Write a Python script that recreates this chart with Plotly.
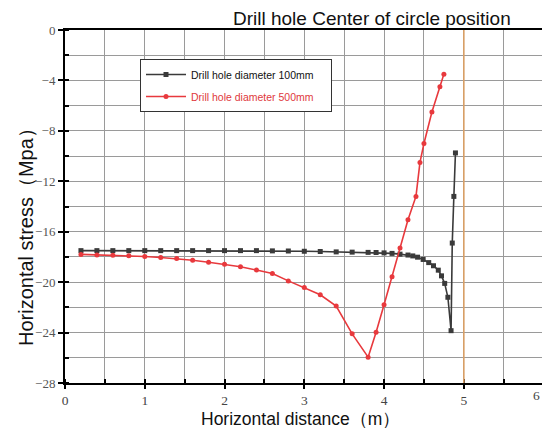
import plotly.graph_objects as go

# Data
x_100 = [0.2, 0.4, 0.6, 0.8, 1.0, 1.2, 1.4, 1.6, 1.8, 2.0, 2.2, 2.4, 2.6, 2.8, 3.0, 3.2, 3.4, 3.6, 3.8,
         3.9, 4.0, 4.1, 4.2, 4.3, 4.36, 4.42, 4.49, 4.56, 4.62, 4.68, 4.72, 4.76, 4.8, 4.84, 4.855, 4.875, 4.895]
y_100 = [-17.5, -17.5, -17.5, -17.5, -17.5, -17.5, -17.5, -17.5, -17.5, -17.5, -17.5, -17.5, -17.52, -17.53,
         -17.55, -17.57, -17.6, -17.62, -17.64, -17.65, -17.68, -17.72, -17.78, -17.85, -17.92, -18.02, -18.2,
         -18.45, -18.7, -19.05, -19.5, -20.1, -21.2, -23.85, -16.9, -13.2, -9.75]

x_500 = [0.2, 0.4, 0.6, 0.8, 1.0, 1.2, 1.4, 1.6, 1.8, 2.0, 2.2, 2.4, 2.6, 2.8, 3.0, 3.2, 3.4, 3.6, 3.8,
         3.9, 4.0, 4.1, 4.2, 4.3, 4.4, 4.45, 4.5, 4.6, 4.7, 4.75]
y_500 = [-17.8, -17.84, -17.87, -17.9, -17.97, -18.05, -18.13, -18.26, -18.42, -18.58, -18.78, -19.04,
         -19.31, -19.9, -20.42, -21.0, -21.9, -24.1, -25.95, -23.98, -21.8, -19.58, -17.3, -15.05, -13.2,
         -10.5, -9.0, -6.5, -4.5, -3.5]

name_100 = "Drill hole diameter 100mm"
name_500 = "Drill hole diameter 500mm"
center_x = 5
title_text = "Drill hole Center of circle position"
x_title = "Horizontal distance（m）"
y_title = "Horizontal stress（Mpa）"
x_edge_label = "6"

W, H = 542, 430
L, R, T, B = 65, 0, 30, 47
plot_w = W - L - R
plot_h = H - T - B
x_range = [0, 5.98]


def px(xp):
    return (xp - L) / plot_w


def py(yp):
    return (H - B - yp) / plot_h


serif = "Liberation Serif"
sans = "Liberation Sans"
pad = "&nbsp;" * 4

fig = go.Figure()
fig.add_trace(go.Scatter(
    x=x_100, y=y_100, mode="lines+markers", name=name_100 + pad, legendgroup="a",
    line=dict(color="#3a3a3a", width=1.6),
    marker=dict(symbol="square", size=5, color="#3a3a3a"),
))
fig.add_trace(go.Scatter(
    x=x_500, y=y_500, mode="lines+markers", legendgroup="b",
    name="<span style='color:#e0383c'>" + name_500 + "</span>" + pad,
    line=dict(color="#e8393d", width=1.6),
    marker=dict(symbol="circle", size=5, color="#e8393d"),
))

fig.add_vline(x=center_x, line=dict(color="#d9a066", width=1.6), layer="above")

fig.update_layout(
    width=W, height=H,
    margin=dict(l=L, r=R, t=T, b=B),
    paper_bgcolor="white", plot_bgcolor="white",
    showlegend=True,
    legend=dict(
        x=px(140), y=py(59), xanchor="left", yanchor="top",
        bgcolor="white", bordercolor="#333", borderwidth=1,
        font=dict(family=sans, size=10.5, color="#111"),
        itemwidth=40, tracegroupgap=3,
    ),
    annotations=[
        dict(text=title_text, x=px(372), y=py(18), xref="paper", yref="paper",
             xanchor="center", yanchor="middle", showarrow=False,
             font=dict(family=sans, size=19, color="#111")),
        dict(text=x_title, x=px(300), y=py(419), xref="paper", yref="paper",
             xanchor="center", yanchor="middle", showarrow=False,
             font=dict(family=sans, size=17.5, color="#111")),
        dict(text=y_title, x=px(26), y=py(232), xref="paper", yref="paper",
             xanchor="center", yanchor="middle", showarrow=False, textangle=-90,
             font=dict(family=sans, size=20, color="#111")),
        dict(text=x_edge_label, x=1.0, y=0, xref="paper", yref="paper",
             xanchor="right", yanchor="top", yshift=-3, showarrow=False,
             font=dict(family=serif, size=13.5, color="#444")),
    ],
)

fig.update_xaxes(
    range=x_range, dtick=1, tick0=0,
    showline=True, linecolor="black", linewidth=2, mirror=True,
    ticks="outside", ticklen=4, tickwidth=1.5, tickcolor="black",
    showgrid=True, gridcolor="#9a9a9a", gridwidth=1,
    minor=dict(dtick=0.5, ticks="inside", ticklen=4, tickcolor="black", showgrid=True,
               gridcolor="#9a9a9a", gridwidth=1),
    tickfont=dict(family=serif, size=13.5, color="#444"),
    zeroline=False,
)
fig.update_yaxes(
    range=[-28, 0], dtick=4, tick0=0,
    showline=True, linecolor="black", linewidth=2, mirror=False,
    ticks="outside", ticklen=5, tickwidth=1.5, tickcolor="black",
    showgrid=True, gridcolor="#9a9a9a", gridwidth=1,
    minor=dict(dtick=2, ticks="inside", ticklen=4, tickcolor="black", showgrid=True,
               gridcolor="#9a9a9a", gridwidth=1),
    tickfont=dict(family=serif, size=13, color="#555"),
    zeroline=False,
)

fig.write_html("out.html")
